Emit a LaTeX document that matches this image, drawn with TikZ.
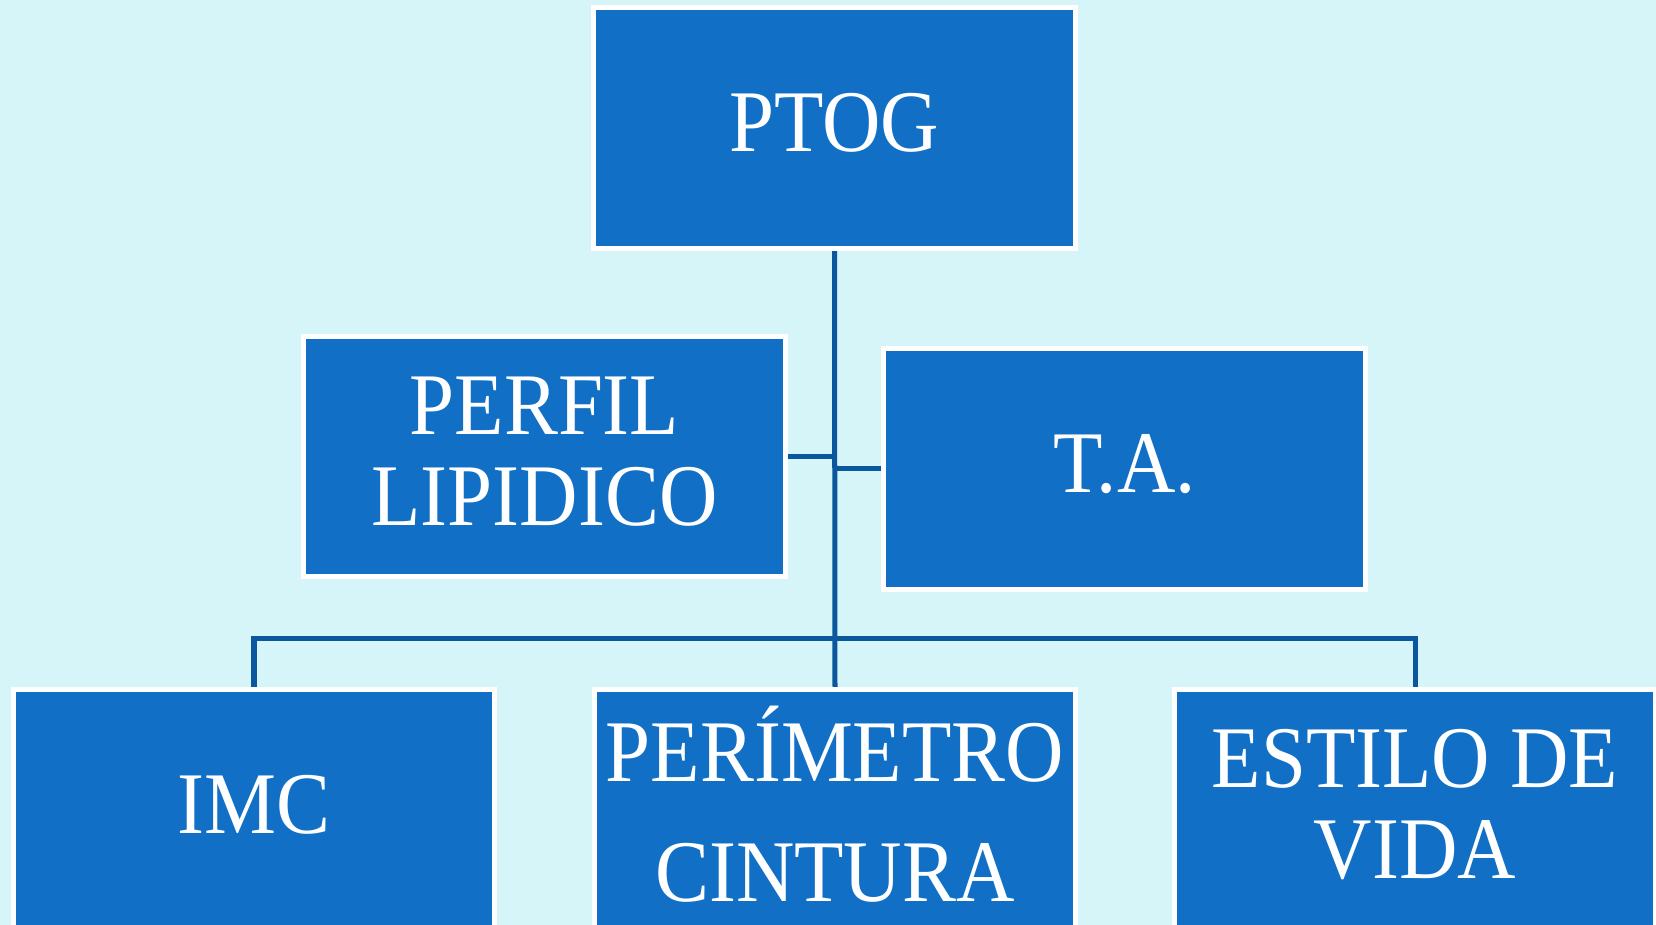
\documentclass[tikz,border=0pt]{standalone}
\usepackage{fontspec}
\setmainfont{Liberation Serif}[FakeStretch=0.92]
\usetikzlibrary{backgrounds}
\definecolor{bgcyan}{RGB}{214,245,248}
\definecolor{boxblue}{RGB}{17,112,198}
\definecolor{linkblue}{RGB}{10,87,160}

\begin{document}
\begin{tikzpicture}[x=0.01cm,y=-0.01cm]
\tikzstyle{box}=[draw=white,fill=boxblue,line width=0.05cm,minimum width=4.81cm,minimum height=2.40cm,inner sep=0pt,text depth=0.11cm,text=white,align=center,font=\fontsize{25pt}{25.9pt}\selectfont]
\tikzstyle{link}=[draw=linkblue,line width=0.05cm]
\useasboundingbox (0,0) rectangle (1656,925);
\node[box] (ptog) at (834.5,128) {PTOG};
\node[box] (perfil) at (544.5,456.5) {PERFIL\\LIPIDICO};
\node[box] (ta) at (1124.5,469) {T.A.};
\node[box] (imc) at (254,809.5) {IMC};
\node[box] (perim) at (835,809.5) {PERÍMETRO\\[8.3pt]CINTURA};
\node[box] (estilo) at (1415,809.5) {ESTILO DE\\VIDA};
\coordinate (bus) at (835,639);
\begin{scope}[on background layer]
\fill[bgcyan] (0,0) rectangle (1656,925);
\draw[link] (ptog.south) to (perim.north);
\draw[link] (perfil.east) to (perfil.east -| ptog.south);
\draw[link] (ta.west) to (ta.west -| ptog.south);
\draw[link] (imc.north) to (imc.north |- bus) to (estilo.north |- bus) to (estilo.north);
\end{scope}
\end{tikzpicture}
\end{document}
